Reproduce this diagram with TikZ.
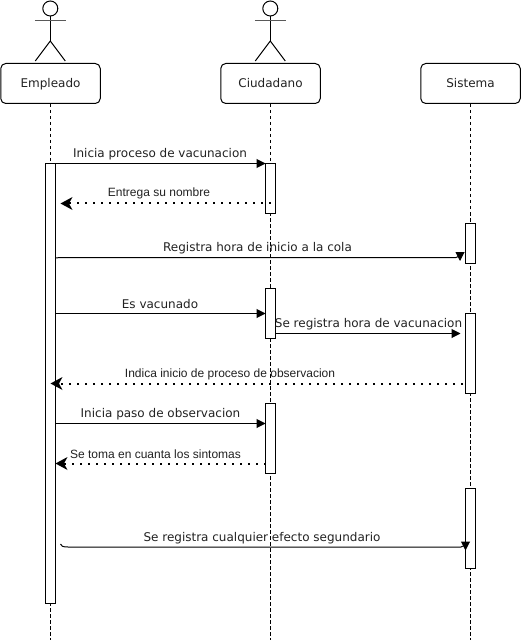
\documentclass[tikz,border=0pt]{standalone}
\usepackage{fontspec}
\setmainfont{DejaVu Sans}
\newfontfamily\smallfont{Liberation Sans}
\usetikzlibrary{arrows.meta}
\definecolor{txt}{HTML}{222222}
\tikzset{
  box/.style={draw=black,line width=1pt,rounded corners=5pt,minimum width=99.5pt,minimum height=40pt,inner sep=0pt,font=\fontsize{12}{14}\selectfont,text=txt,text depth=0pt,text height=9pt},
  bar/.style={draw=black,fill=white,line width=1pt,minimum width=10pt,inner sep=0pt,outer sep=0pt},
  life/.style={line width=0.9pt,dash pattern=on 3.5pt off 2.5pt},
  msg/.style={line width=1pt,-{Triangle[length=9pt,width=9pt]}},
  ret/.style={line width=2pt,dash pattern=on 2pt off 6pt,-{Stealth[length=12pt,width=13pt,inset=3.5pt,line width=0pt]}},
  lab/.style={inner sep=0pt,text=txt,font=\fontsize{12}{14}\selectfont},
  slab/.style={inner sep=0pt,text=txt,font=\smallfont\fontsize{12}{14}\selectfont},
  act/.style={line width=1pt},
  arm/.style={line width=1.5pt,draw=black!65}
}
\newcommand{\actor}[1]{
  \draw[act] (#1,8.5) circle (7.5);
  \draw[act] (#1,16) -- (#1,41);
  \draw[arm] (#1-15.5,20.5) -- (#1+15.5,20.5);
  \draw[act] (#1-15,61) -- (#1,41) -- (#1+15,61);
}
\begin{document}
\begin{tikzpicture}[x=1pt,y=-1pt]
\useasboundingbox (0,0) rectangle (521,644);
\fill[white] (0,0) rectangle (521,644);
\actor{50.3}
\actor{270.3}
\node[box] (emp) at (50.5,83.5) {Empleado};
\node[box] (ciu) at (270.5,83.5) {Ciudadano};
\node[box] (sis) at (470.5,83.5) {Sistema};
\coordinate (empend) at (50.5,640);
\coordinate (ciuend) at (270.5,640);
\coordinate (sisend) at (470.5,640);
\draw[life] (emp.south) -- (empend);
\draw[life] (ciu.south) -- (ciuend);
\draw[life] (sis.south) -- (sisend);
\node[bar,minimum height=440pt] (e1) at (50.5,383.5) {};
\node[bar,minimum height=50pt] (c1) at (270.5,188.5) {};
\node[bar,minimum height=50pt] (c2) at (270.5,313.5) {};
\node[bar,minimum height=70pt] (c3) at (270.5,438.5) {};
\node[bar,minimum height=40pt] (s1) at (470.5,243.5) {};
\node[bar,minimum height=80pt] (s2) at (470.5,353.5) {};
\node[bar,minimum height=80pt] (s3) at (470.5,528.5) {};
% messages
\coordinate (m1a) at (55.5,163.5); \coordinate (m1b) at (265.5,163.5);
\coordinate (m2a) at (270.5,203.5); \coordinate (m2b) at (60.5,203.5);
\coordinate (m3a) at (56,258); \coordinate (m3b) at (460,261);
\coordinate (m4a) at (56,313.5); \coordinate (m4b) at (265.5,313.5);
\coordinate (m5a) at (275.5,333.5); \coordinate (m5b) at (460.5,333.5);
\coordinate (m6a) at (463,383.5); \coordinate (m6b) at (50.5,383.5);
\coordinate (m7a) at (56,423.5); \coordinate (m7b) at (265.5,423.5);
\coordinate (m8a) at (265.5,463.5); \coordinate (m8b) at (55.5,463.5);
\coordinate (m9a) at (60.5,544); \coordinate (m9b) at (465.5,550.5);
\draw[msg] (m1a) -- (m1b);
\draw[ret] (m2a) -- (m2b);
\draw[msg] (m3a) .. controls (58,257.5) and (60,257.5) .. (64,257.5) -- (456,257.5) .. controls (458,257.5) and (460,256) .. (m3b);
\draw[msg] (m4a) -- (m4b);
\draw[msg] (m5a) -- (m5b);
\draw[ret] (m6a) -- (m6b);
\draw[msg] (m7a) -- (m7b);
\draw[ret] (m8a) -- (m8b);
\draw[msg] (m9a) .. controls (60.5,546) and (63,547) .. (68,547) -- (461,547) .. controls (463,547) and (465.5,545) .. (m9b);
% labels
\node[lab]  (l1) at (160,154)   {Inicia proceso de vacunacion};
\node[slab] (l2) at (159,193.5) {Entrega su nombre};
\node[lab]  (l3) at (257.5,248) {Registra hora de inicio a la cola};
\node[lab]  (l4) at (160,304)   {Es vacunado};
\node[lab]  (l5) at (368.5,324) {Se registra hora de vacunacion};
\node[slab] (l6) at (230,374) {Indica inicio de proceso de observacion};
\node[lab]  (l7) at (160.5,414) {Inicia paso de observacion};
\node[slab] (l8) at (155.5,454) {Se toma en cuanta los sintomas};
\node[lab]  (l9) at (262,538)   {Se registra cualquier efecto segundario};
\end{tikzpicture}
\end{document}
